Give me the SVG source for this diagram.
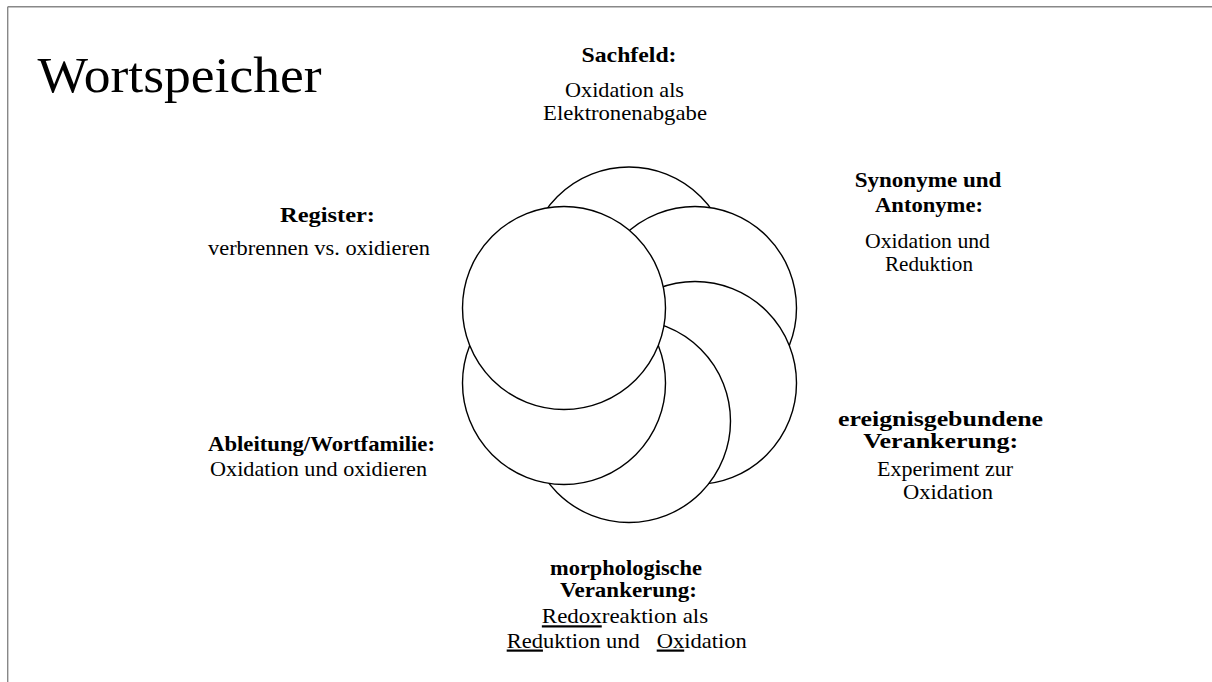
<svg xmlns="http://www.w3.org/2000/svg" width="1212" height="682" viewBox="0 0 1212 682">
<style>
.c{fill:#fff;stroke:#000;stroke-width:1.4}
.t{font-family:"Liberation Serif","Times New Roman",serif;fill:#000;text-anchor:middle}
.b{font-size:21px;font-weight:bold}
.n{font-size:22px}
.u{text-decoration:underline}
</style>
<rect width="1212" height="682" fill="#fff"/>
<g id="frame" stroke="#888" stroke-width="1.4" fill="none">
<line x1="7.7" y1="6.7" x2="1212" y2="6.7"/>
<line x1="7.7" y1="6.7" x2="7.7" y2="682"/>
</g>
<text id="title" class="t" x="179.5" y="92" font-size="51" textLength="284" lengthAdjust="spacingAndGlyphs">Wortspeicher</text>
<g id="circles">
<circle id="c-sachfeld" class="c" cx="629" cy="268.5" r="101.5"/>
<circle id="c-synonyme" class="c" cx="695" cy="308" r="101.5"/>
<circle id="c-ereignis" class="c" cx="695" cy="383" r="101.5"/>
<circle id="c-morph" class="c" cx="629" cy="421" r="101.5"/>
<circle id="c-ableitung" class="c" cx="564" cy="383" r="101.5"/>
<circle id="c-register" class="c" cx="564" cy="308" r="101.5"/>
</g>
<g id="connectors"/>
<g id="sachfeld">
<text class="t b" x="629" y="61.7" textLength="95" lengthAdjust="spacingAndGlyphs">Sachfeld:</text>
<text class="t n" x="624.5" y="96.7" textLength="119" lengthAdjust="spacingAndGlyphs">Oxidation als</text>
<text class="t n" x="625" y="120" textLength="164" lengthAdjust="spacingAndGlyphs">Elektronenabgabe</text>
</g>
<g id="register">
<text class="t b" x="327.5" y="221.7" textLength="95" lengthAdjust="spacingAndGlyphs">Register:</text>
<text class="t n" x="319" y="255" textLength="222" lengthAdjust="spacingAndGlyphs">verbrennen vs. oxidieren</text>
</g>
<g id="synonyme">
<text class="t b" x="928" y="186.7" textLength="146.7" lengthAdjust="spacingAndGlyphs">Synonyme und</text>
<text class="t b" x="929" y="211.7" textLength="108" lengthAdjust="spacingAndGlyphs">Antonyme:</text>
<text class="t n" x="927.5" y="247.7" textLength="125" lengthAdjust="spacingAndGlyphs">Oxidation und</text>
<text class="t n" x="929" y="270.5" textLength="88" lengthAdjust="spacingAndGlyphs">Reduktion</text>
</g>
<g id="ereignis">
<text class="t b" x="940.5" y="426" textLength="205" lengthAdjust="spacingAndGlyphs">ereignisgebundene</text>
<text class="t b" x="940.7" y="447.8" textLength="155" lengthAdjust="spacingAndGlyphs">Verankerung:</text>
<text class="t n" x="945" y="475.6" textLength="136" lengthAdjust="spacingAndGlyphs">Experiment zur</text>
<text class="t n" x="948" y="499" textLength="90" lengthAdjust="spacingAndGlyphs">Oxidation</text>
</g>
<g id="ableitung">
<text class="t b" x="321.5" y="450.5" textLength="227" lengthAdjust="spacingAndGlyphs">Ableitung/Wortfamilie:</text>
<text class="t n" x="318.5" y="475.5" textLength="217" lengthAdjust="spacingAndGlyphs">Oxidation und oxidieren</text>
</g>
<g id="morph">
<text class="t b" x="626" y="574.5" textLength="152" lengthAdjust="spacingAndGlyphs">morphologische</text>
<text class="t b" x="628.5" y="597" textLength="137" lengthAdjust="spacingAndGlyphs">Verankerung:</text>
<text class="t n" x="625" y="623.3" textLength="166.3" lengthAdjust="spacingAndGlyphs"><tspan class="u">Redox</tspan>reaktion als</text>
<text class="t n" x="626.7" y="647.5" textLength="240" lengthAdjust="spacingAndGlyphs"><tspan class="u">Red</tspan>uktion und &#160; <tspan class="u">Ox</tspan>idation</text>
</g>
</svg>
